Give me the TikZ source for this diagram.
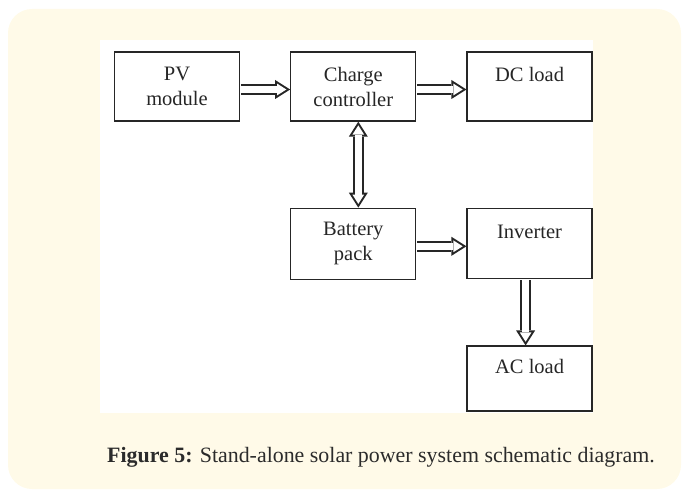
\documentclass[tikz,border=0pt]{standalone}
\usepackage{fontspec}
\setmainfont{Liberation Serif}
\usepackage{xcolor}
\usepackage{tikz}
\usetikzlibrary{arrows.meta, positioning}
\definecolor{panelfill}{HTML}{FFFAE8}
\definecolor{boxstroke}{HTML}{262626}
\definecolor{captiontext}{HTML}{2B2B2B}
\newcommand{\figlabel}[1]{{\bfseries #1}}

\begin{document}
\begin{tikzpicture}[
        x=1pt, y=-1pt,
        node distance=86pt and 50pt,
        blk/.style={
            rectangle,
            draw=boxstroke,
            line width=1.3pt,
            fill=white,
            minimum width=125pt,
            minimum height=69pt,
            align=center,
            font=\fontsize{20.5}{25}\selectfont,
            text=black!85
        },
        outertip/.style={-{Triangle[length=15pt, width=19pt, line width=0pt]}},
        innertip/.style={-{Triangle[length=9.25pt, width=11.7pt, line width=0pt]}},
        flow/.style={
            draw=white, line width=6.5pt,
            shorten <=0.7pt, shorten >=3.75pt, innertip,
            preaction={draw=boxstroke, line width=10.5pt,
                shorten <=0.7pt, shorten >=0pt, outertip}
        },
        flowboth/.style={
            draw=white, line width=6.5pt,
            shorten <=3.75pt, shorten >=3.75pt,
            {Triangle[length=9.25pt, width=11.7pt, line width=0pt]}-{Triangle[length=9.25pt, width=11.7pt, line width=0pt]},
            preaction={draw=boxstroke, line width=10.5pt,
                shorten <=0pt, shorten >=0pt,
                {Triangle[length=15pt, width=19pt, line width=0pt]}-{Triangle[length=15pt, width=19pt, line width=0pt]}}
        }
    ]
        \useasboundingbox (0,0) rectangle (687,497);
        % Panel
        \fill[panelfill, rounded corners=24pt] (8,9) rectangle (681,489);
        \fill[white] (100,40) rectangle (593,413);

        % Nodes
        \node[blk] (pv) at (177,86.5) {PV\\module};
        \node[blk, right=of pv] (cc) {Charge\\controller};
        \node[blk, right=of cc] (dc) {DC load\\\mbox{}};
        \node[blk, below=of cc, minimum height=71pt] (bp) {Battery\\pack};
        \node[blk, right=of bp, minimum height=70pt] (inv) {Inverter\\\mbox{}};
        \node[blk, below=66pt of inv, minimum height=65pt] (ac) {AC load\\\mbox{}};

        % Arrows
        \draw[flow] ([yshift=-3pt]pv.east) -- ([yshift=-3pt]cc.west);
        \draw[flow] ([yshift=-3pt]cc.east) -- ([yshift=-3pt]dc.west);
        \draw[flowboth] ([xshift=5pt]cc.south) -- ([xshift=5pt]bp.north);
        \draw[flow] ([yshift=-2.5pt]bp.east) -- ([yshift=-2.5pt]inv.west);
        \draw[flow] ([xshift=-4pt]inv.south) -- ([xshift=-4pt]ac.north);

        % Caption
        \node[anchor=base west, inner sep=0pt, text=captiontext,
              font=\fontsize{21.9}{26}\selectfont] (caption) at (107,462)
              {\figlabel{Figure 5:} Stand-alone solar power system schematic diagram.};
    \end{tikzpicture}
\end{document}
